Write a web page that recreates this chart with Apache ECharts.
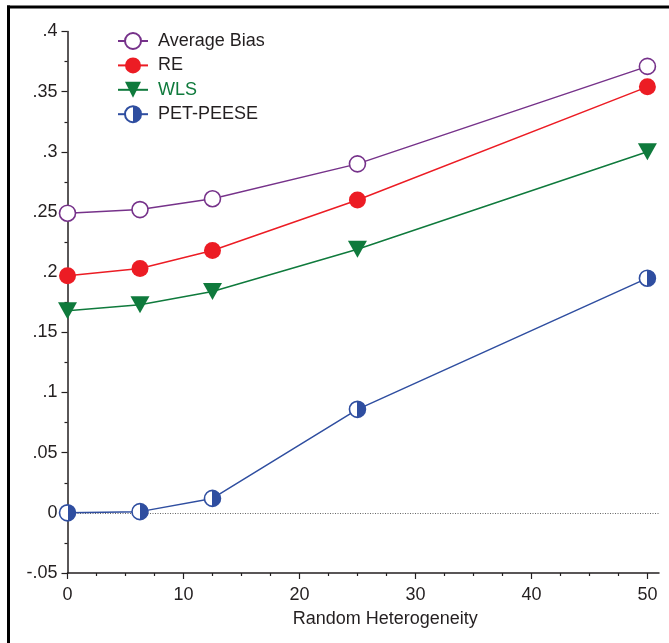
<!DOCTYPE html>
<html>
<head>
<meta charset="utf-8">
<script src="https://cdn.jsdelivr.net/npm/echarts@6/dist/echarts.min.js"></script>
<style>html,body{margin:0;padding:0;background:#fff}#c{width:669px;height:643px}</style>
</head>
<body>
<div id="c"></div>
<script>
const xValues = [0, 6.25, 12.5, 25, 50];
const averageBias = [0.249, 0.252, 0.261, 0.290, 0.371];
const reValues = [0.197, 0.203, 0.218, 0.260, 0.354];
const wlsValues = [0.168, 0.173, 0.184, 0.219, 0.300];
const petPeese = [0.000, 0.001, 0.012, 0.086, 0.195];
const xMajorTicks = [0, 10, 20, 30, 40, 50];
const xMinorTicks = [2.5, 5, 7.5, 12.5, 15, 17.5, 22.5, 25, 27.5, 32.5, 35, 37.5, 42.5, 45, 47.5];
const seriesNames = ['Average Bias', 'RE', 'WLS', 'PET-PEESE'];

const FONT = 'Liberation Sans, Arial, sans-serif';
const TXT = '#231f20';
const C_PURPLE = '#76328a';
const C_RED = '#ec1c24';
const C_GREEN = '#0f7a3c';
const C_BLUE = '#2f4ea0';

const pairs = arr => xValues.map((x, i) => [x, arr[i]]);
const chart = echarts.init(document.getElementById('c'), null, {renderer: 'canvas'});

const halfFill = new echarts.graphic.LinearGradient(0, 0, 1, 0, [
  {offset: 0, color: '#ffffff'}, {offset: 0.5, color: '#ffffff'},
  {offset: 0.5, color: C_BLUE}, {offset: 1, color: C_BLUE}
]);

function fmtY(v) {
  if (Math.abs(v) < 1e-9) return '0';
  let s = (+v.toFixed(3)).toString();
  return s.replace(/^0\./, '.').replace(/^-0\./, '-.');
}

chart.setOption({
  animation: false,
  backgroundColor: '#fff',
  textStyle: {fontFamily: FONT},
  grid: {left: 67.5, right: 10, top: 31.5, bottom: 70, containLabel: false},
  legend: {
    orient: 'vertical', left: 112, top: 27,
    itemWidth: 30, itemHeight: 20, itemGap: 6.4,
    textStyle: {fontFamily: FONT, fontSize: 18, color: TXT, padding: [0, 0, 0, 5]},
    data: [
      {name: seriesNames[0]},
      {name: seriesNames[1]},
      {name: seriesNames[2], textStyle: {color: C_GREEN}},
      {name: seriesNames[3]}
    ]
  },
  xAxis: [{
    type: 'value', min: 0, max: 51,
    name: 'Random Heterogeneity', nameLocation: 'middle', nameGap: 37,
    nameTextStyle: {fontFamily: FONT, fontSize: 18, color: TXT, padding: [0, 0, 0, 44]},
    axisLine: {show: true, onZero: false, lineStyle: {color: '#231f20', width: 1.5}},
    axisTick: {show: true, inside: false, length: 6, customValues: xMajorTicks, lineStyle: {color: '#231f20', width: 1.2}},
    axisLabel: {customValues: xMajorTicks, fontFamily: FONT, fontSize: 18, color: TXT, margin: 13},
    splitLine: {show: false}
  }, {
    type: 'value', min: 0, max: 51, position: 'bottom',
    axisLine: {show: false, onZero: false},
    axisTick: {show: true, length: 3, customValues: xMinorTicks, lineStyle: {color: '#231f20', width: 1.2}},
    axisLabel: {show: false},
    splitLine: {show: false}
  }],
  yAxis: {
    type: 'value', min: -0.05, max: 0.4, interval: 0.05,
    axisLine: {show: true, onZero: false, lineStyle: {color: '#231f20', width: 1.5}},
    axisTick: {show: true, length: 6, lineStyle: {color: '#231f20', width: 1.2}},
    minorTick: {show: true, splitNumber: 2, length: 3, lineStyle: {color: '#231f20', width: 1.2}},
    axisLabel: {fontFamily: FONT, fontSize: 18, color: TXT, margin: 10, formatter: fmtY},
    splitLine: {show: false}
  },
  series: [
    {
      name: seriesNames[0], type: 'line', data: pairs(averageBias),
      symbol: 'circle', symbolSize: 16, z: 4,
      lineStyle: {color: C_PURPLE, width: 1.5},
      itemStyle: {color: '#fff', borderColor: C_PURPLE, borderWidth: 1.6}
    },
    {
      name: seriesNames[1], type: 'line', data: pairs(reValues),
      symbol: 'circle', symbolSize: 17, z: 4,
      lineStyle: {color: C_RED, width: 1.5},
      itemStyle: {color: C_RED, borderColor: C_RED, borderWidth: 0}
    },
    {
      name: seriesNames[2], type: 'line', data: pairs(wlsValues),
      symbol: 'triangle', symbolSize: [19, 17], symbolRotate: 180, z: 4,
      lineStyle: {color: C_GREEN, width: 1.5},
      itemStyle: {color: C_GREEN, borderColor: C_GREEN, borderWidth: 0}
    },
    {
      name: seriesNames[3], type: 'line', data: pairs(petPeese),
      symbol: 'circle', symbolSize: 16, z: 4,
      lineStyle: {color: C_BLUE, width: 1.5},
      itemStyle: {color: halfFill, borderColor: C_BLUE, borderWidth: 1.6},
      markLine: {
        silent: true, symbol: ['none', 'none'], label: {show: false},
        lineStyle: {color: '#666', type: [1, 1.5], width: 1},
        data: [{yAxis: 0}], z: 2
      }
    }
  ],
  graphic: [
    {type: 'line', shape: {x1: 8.5, y1: 5.5, x2: 8.5, y2: 643}, style: {stroke: '#000', lineWidth: 3}},
    {type: 'line', shape: {x1: 7, y1: 7, x2: 669, y2: 7}, style: {stroke: '#000', lineWidth: 3}}
  ]
});
</script>
</body>
</html>
